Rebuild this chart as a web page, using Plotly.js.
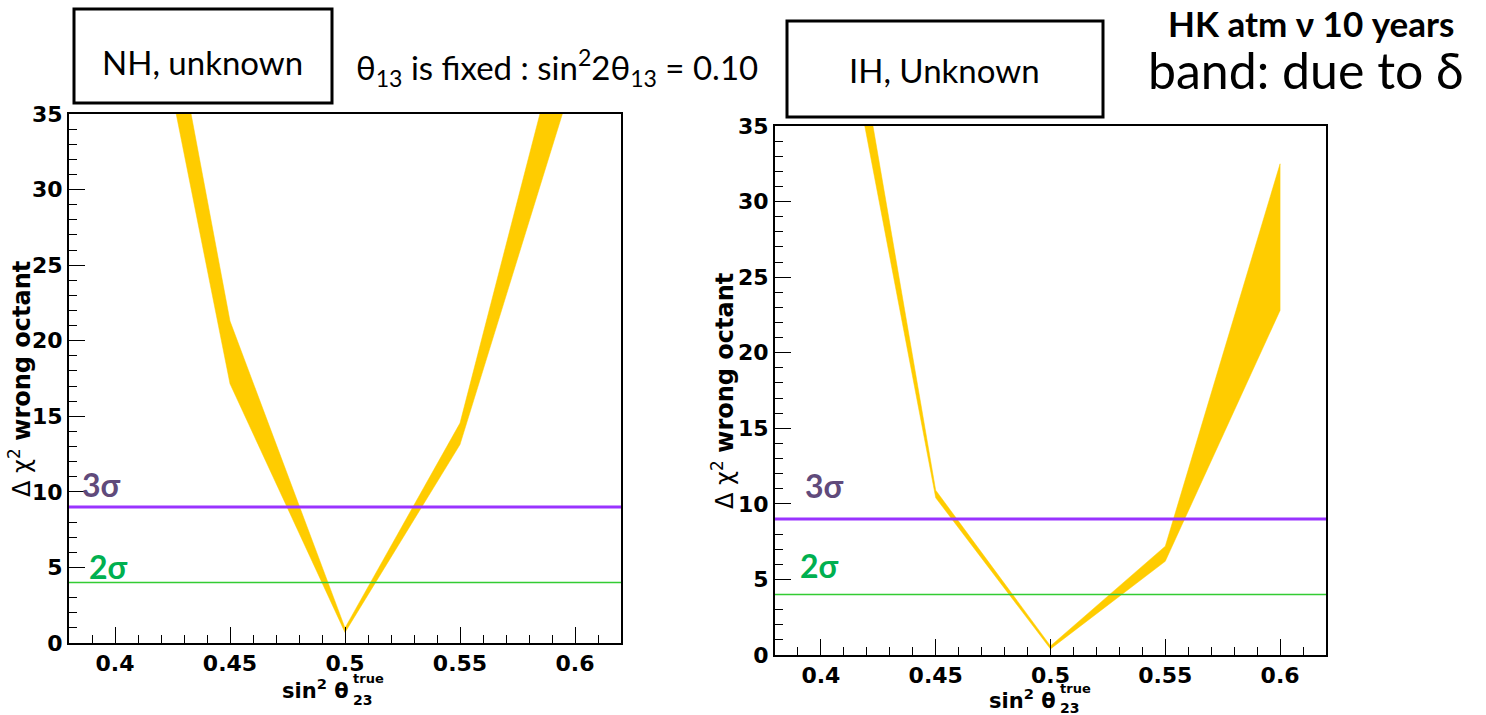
<!DOCTYPE html>
<html>
<head>
<meta charset="utf-8">
<script src="https://cdn.plot.ly/plotly-3.0.1.min.js"></script>
<style>html,body{margin:0;padding:0;background:#fff;}#chart{width:1486px;height:715px;}</style>
</head>
<body>
<div id="chart"></div>
<script>
// ---- data ----
const sin2Theta23 = [0.40, 0.45, 0.50, 0.55, 0.60];
const nhUpper = [61.8, 21.3, 1.0, 14.55, 44.0];
const nhLower = [55.3, 17.15, 0.7, 13.13, 37.7];
const ihUpper = [55.0, 10.9, 0.6, 7.2, 32.5];
const ihLower = [50.2, 10.4, 0.4, 6.2, 22.8];
const sigmaLevels = [9, 4];
const sigmaLabels = ['3σ', '2σ'];
const xTickVals = [0.40, 0.45, 0.50, 0.55, 0.60];
const xTickText = ['0.4', '0.45', '0.5', '0.55', '0.6'];
const yTickVals = [0, 5, 10, 15, 20, 25, 30, 35];
const yTickText = ['0', '5', '10', '15', '20', '25', '30', '35'];

// ---- helpers (layout only) ----
const W = 1486, H = 715;
const px = v => v / W;
const py = v => 1 - v / H;

function band(xs, up, lo, xa, ya) {
  return {
    x: xs.concat(xs.slice().reverse()),
    y: up.concat(lo.slice().reverse()),
    xaxis: xa, yaxis: ya,
    type: 'scatter', mode: 'lines', fill: 'toself',
    fillcolor: '#ffcc00', line: {color: '#ffcc00', width: 0.5},
    hoverinfo: 'skip'
  };
}

const traces = [
  band(sin2Theta23, nhUpper, nhLower, 'x', 'y'),
  band(sin2Theta23, ihUpper, ihLower, 'x2', 'y2')
];

const tickFont = {family: 'DejaVu Sans', size: 22, color: '#000', weight: 'bold'};
function xAxis(domain, anchor) {
  return {
    domain: domain, anchor: anchor, range: [0.38, 0.62],
    tickmode: 'array', tickvals: xTickVals, ticktext: xTickText,
    ticks: 'inside', ticklen: 16, tickwidth: 1, tickcolor: '#000',
    minor: {dtick: 0.01, tick0: 0.4, ticks: 'inside', ticklen: 8, tickwidth: 1, tickcolor: '#000', showgrid: false},
    showline: true, linewidth: 2, linecolor: '#000', mirror: true,
    showgrid: false, zeroline: false, tickfont: tickFont, fixedrange: true
  };
}
function yAxis(domain, anchor) {
  return {
    domain: domain, anchor: anchor, range: [0, 35],
    tickmode: 'array', tickvals: yTickVals, ticktext: yTickText,
    ticks: 'inside', ticklen: 16, tickwidth: 1, tickcolor: '#000',
    minor: {dtick: 1, tick0: 0, ticks: 'inside', ticklen: 8, tickwidth: 1, tickcolor: '#000', showgrid: false},
    showline: true, linewidth: 2, linecolor: '#000', mirror: true,
    showgrid: false, zeroline: false, tickfont: tickFont, fixedrange: true
  };
}

const sigmaColors = ['#9933ff', '#33cc33'];
const sigmaWidths = [3, 1.5];
const sigmaTextColors = ['#604a7b', '#00b050'];

const shapes = [];
['x', 'x2'].forEach((xa, i) => {
  const ya = i === 0 ? 'y' : 'y2';
  sigmaLevels.forEach((lv, k) => {
    shapes.push({type: 'line', xref: xa + ' domain', yref: ya, x0: 0, x1: 1, y0: lv, y1: lv,
      line: {color: sigmaColors[k], width: sigmaWidths[k]}});
  });
});
// boxes
shapes.push({type: 'rect', xref: 'paper', yref: 'paper', x0: px(74), x1: px(332), y0: py(103), y1: py(9), line: {color: '#000', width: 3}});
shapes.push({type: 'rect', xref: 'paper', yref: 'paper', x0: px(787), x1: px(1103), y0: py(117), y1: py(21), line: {color: '#000', width: 3}});

const slideFont = {family: 'Lato', size: 33, color: '#000'};
const ann = [];
ann.push({text: 'NH, unknown', xref: 'paper', yref: 'paper', x: px(203), y: py(62), xanchor: 'center', yanchor: 'middle', showarrow: false, font: slideFont});
ann.push({text: 'θ<sub>13</sub> is fixed : sin<sup>2</sup>2θ<sub>13</sub> = 0.10', xref: 'paper', yref: 'paper', x: px(557), y: py(68), xanchor: 'center', yanchor: 'middle', showarrow: false, font: slideFont});
ann.push({text: 'IH, Unknown', xref: 'paper', yref: 'paper', x: px(945), y: py(70), xanchor: 'center', yanchor: 'middle', showarrow: false, font: slideFont});
ann.push({text: '<b>HK atm ν 10 years</b>', xref: 'paper', yref: 'paper', x: px(1311), y: py(23), xanchor: 'center', yanchor: 'middle', showarrow: false, font: {family: 'Lato', size: 35, color: '#000', weight: 900}});
ann.push({text: 'band: due to δ', xref: 'paper', yref: 'paper', x: px(1306), y: py(70), xanchor: 'center', yanchor: 'middle', showarrow: false, font: {family: 'Lato', size: 50, color: '#000'}});

// sigma labels
const sigPos = [[[80, 484], [87, 566]], [[803, 485], [798, 565]]];
sigPos.forEach(pp => {
  pp.forEach((p, k) => {
    ann.push({text: '<b>' + sigmaLabels[k] + '</b>', xref: 'paper', yref: 'paper', x: px(p[0]), y: py(p[1]), xanchor: 'left', yanchor: 'middle', showarrow: false,
      font: {family: 'Lato', size: 32, color: sigmaTextColors[k], weight: 'bold'}});
  });
});

// y titles
const yTitle = 'Δ χ<sup>2</sup> <b>wrong octant</b>';
[[20, 379], [723, 391]].forEach(p => {
  ann.push({text: yTitle, xref: 'paper', yref: 'paper', x: px(p[0]), y: py(p[1]), xanchor: 'center', yanchor: 'middle', textangle: -90, showarrow: false,
    font: {family: 'DejaVu Sans', size: 24, color: '#000'}});
});
// x titles
[[351, 689, 678, 700], [1058, 699, 688, 708]].forEach(p => {
  ann.push({text: '<b>sin<sup>2</sup> θ</b>', xref: 'paper', yref: 'paper', x: px(p[0]), y: py(p[1]), xanchor: 'right', yanchor: 'middle', showarrow: false, font: {family: 'DejaVu Sans', size: 21, color: '#000'}});
  ann.push({text: '<b>true</b>', xref: 'paper', yref: 'paper', x: px(p[0]), y: py(p[2]), xanchor: 'left', yanchor: 'middle', showarrow: false, font: {family: 'DejaVu Sans', size: 13, color: '#000'}});
  ann.push({text: '<b>23</b>', xref: 'paper', yref: 'paper', x: px(p[0]), y: py(p[3]), xanchor: 'left', yanchor: 'middle', showarrow: false, font: {family: 'DejaVu Sans', size: 14, color: '#000'}});
});

const layout = {
  width: W, height: H, margin: {l: 0, r: 0, t: 0, b: 0},
  paper_bgcolor: '#fff', plot_bgcolor: '#fff', showlegend: false,
  xaxis: xAxis([px(69), px(621)], 'y'),
  yaxis: yAxis([py(643), py(114)], 'x'),
  xaxis2: xAxis([px(775), px(1326)], 'y2'),
  yaxis2: yAxis([py(655), py(126)], 'x2'),
  shapes: shapes, annotations: ann
};

Plotly.newPlot('chart', traces, layout, {displayModeBar: false, staticPlot: true});
</script>
</body>
</html>
